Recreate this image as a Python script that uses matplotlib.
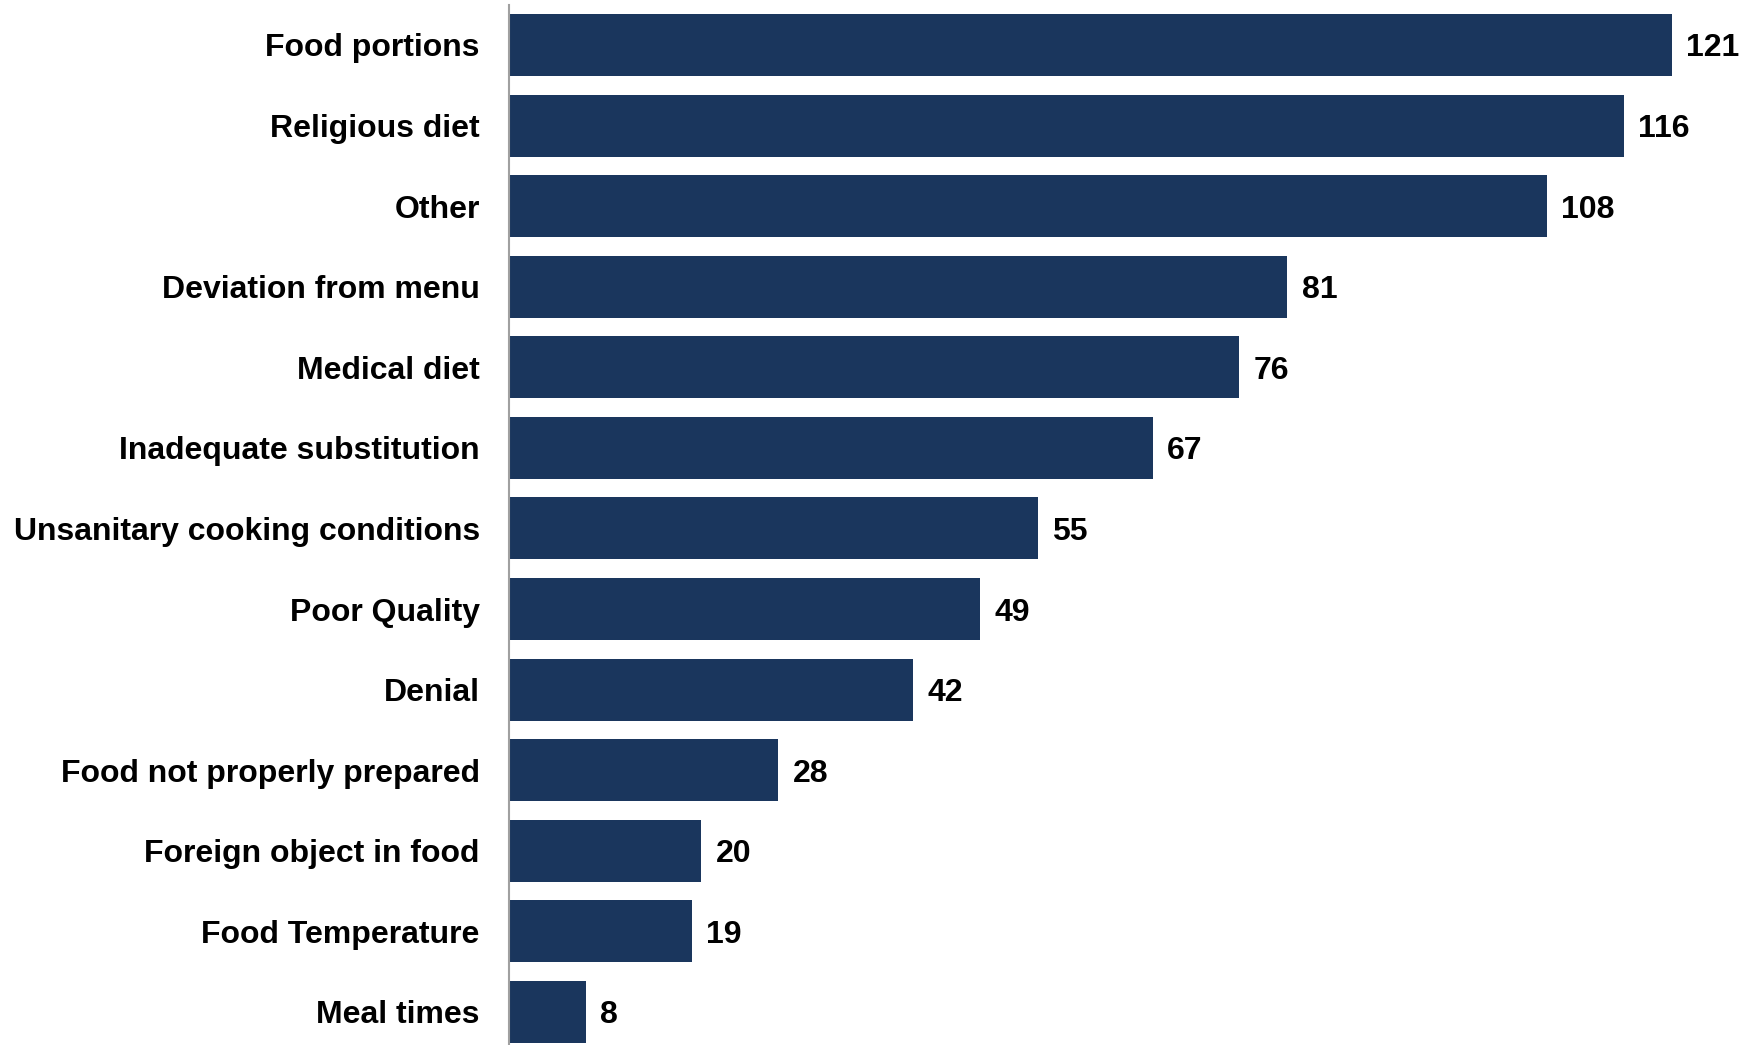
import matplotlib
matplotlib.use('Agg')
from matplotlib import pyplot as plt

categories = ['Food portions', 'Religious diet', 'Other', 'Deviation from menu',
              'Medical diet', 'Inadequate substitution', 'Unsanitary cooking conditions',
              'Poor Quality', 'Denial', 'Food not properly prepared',
              'Foreign object in food', 'Food Temperature', 'Meal times']
counts = [121, 116, 108, 81, 76, 67, 55, 49, 42, 28, 20, 19, 8]

plt.rcParams['font.family'] = ['Liberation Sans', 'DejaVu Sans']

fig = plt.figure(figsize=(17.5, 10.45), dpi=100)
ax = fig.add_axes([509/1750., 0, 1 - 509/1750., 1 - 5/1045.])

pos = list(range(len(categories)))
ax.barh(pos, counts, height=0.77, color='#1A365D', edgecolor='none')

for p, v in zip(pos, counts):
    ax.text(v + 1.5, p, str(v), va='center_baseline', ha='left', fontsize=23,
            fontweight='bold', color='black')

ax.set_ylim(12.41, -0.496)
ax.set_xlim(0, 1241/9.61)
ax.set_yticks(pos)
ax.set_yticklabels(categories, fontsize=23, fontweight='bold', va='center_baseline')
ax.tick_params(axis='y', length=0, pad=21)
ax.set_xticks([])
for s in ['top', 'right', 'bottom']:
    ax.spines[s].set_visible(False)
ax.spines['left'].set_color('#A0A0A0')
ax.spines['left'].set_linewidth(1.5)

fig.savefig('out.png', dpi=100)
